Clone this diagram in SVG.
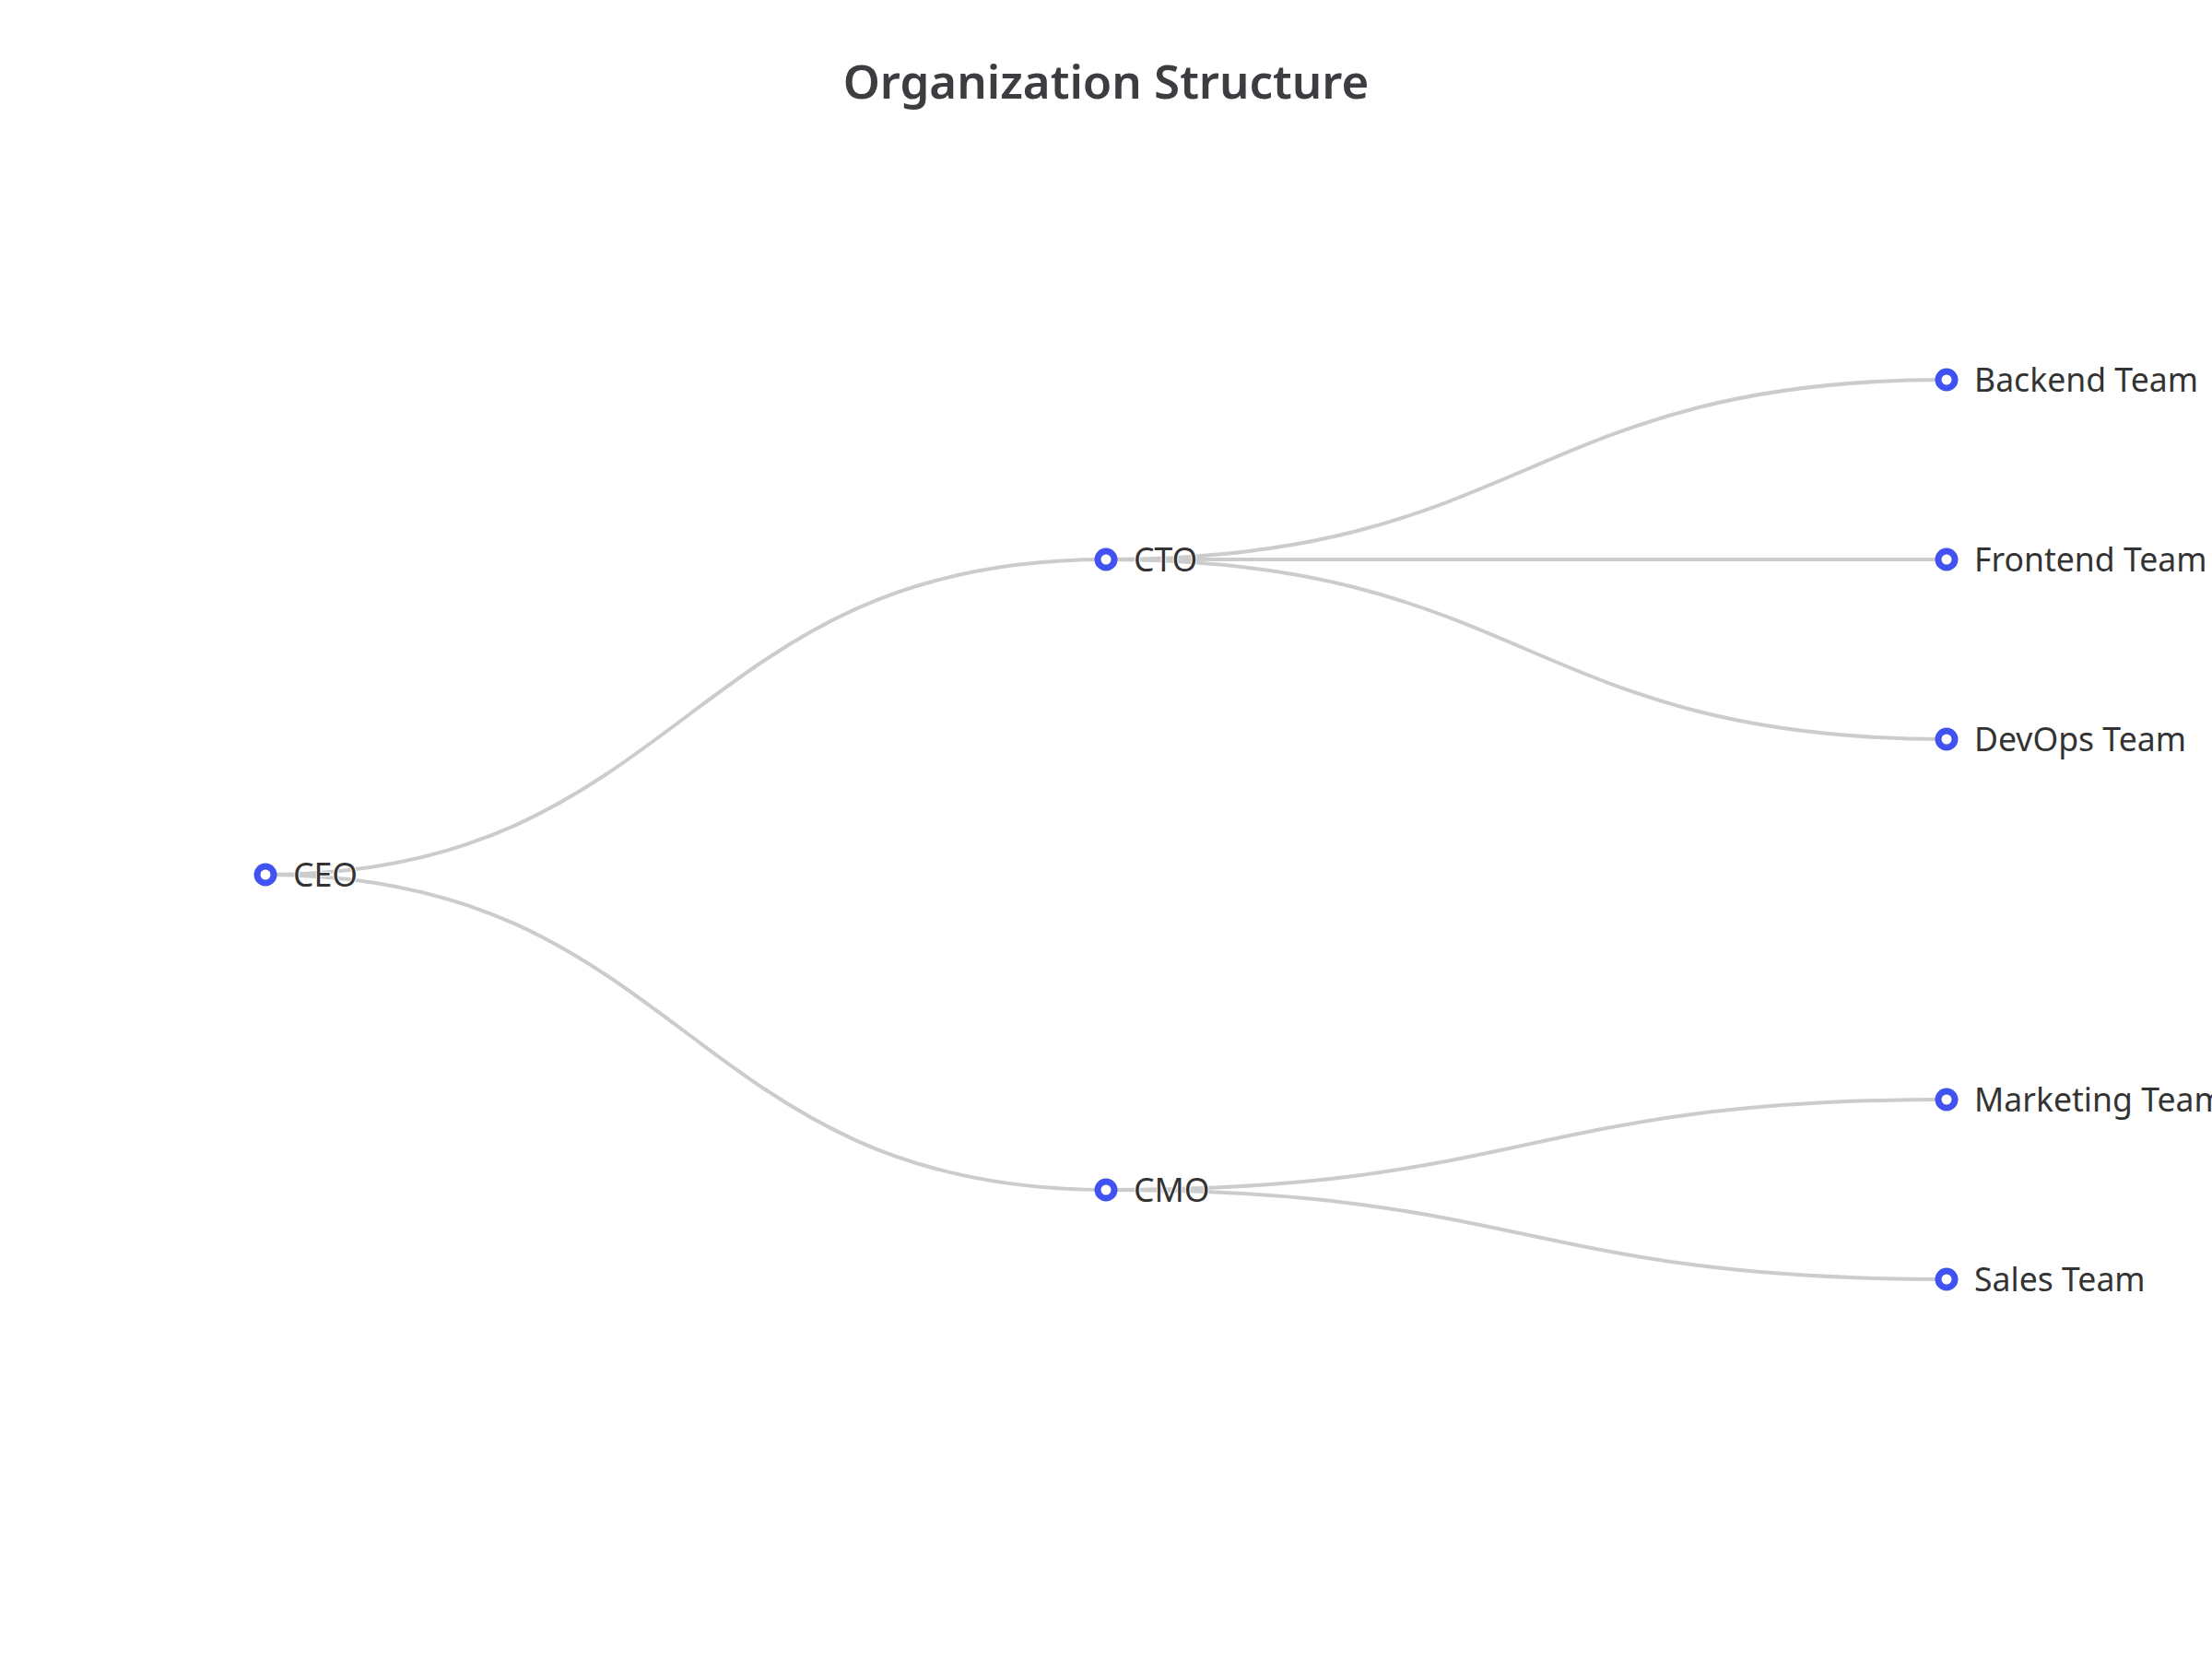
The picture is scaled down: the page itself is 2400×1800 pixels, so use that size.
<svg xmlns="http://www.w3.org/2000/svg" width="2400" height="1800" viewBox="0 0 2400 1800">
<style>
.link{fill:none;stroke:#cccccc;stroke-width:4}
.dot{fill:#ffffff;stroke:#4152f0;stroke-width:7}
.lbl{font-family:"Noto Sans","Open Sans","DejaVu Sans",sans-serif;font-size:35.6px;fill:#333333;stroke:#ffffff;stroke-width:2;paint-order:stroke;stroke-linejoin:round}
.title{font-family:"Noto Sans","Open Sans","DejaVu Sans",sans-serif;font-size:51px;font-weight:600;fill:#3c3c41;text-anchor:middle}
</style>
<rect width="2400" height="1800" fill="#ffffff"/>
<text class="title" x="1200" y="107">Organization Structure</text>
<g id="links">
<path class="link" d="M288,949 C744,949 744,607 1200,607"/>
<path class="link" d="M288,949 C744,949 744,1291 1200,1291"/>
<path class="link" d="M1200,607 C1656,607 1656,412 2112,412"/>
<path class="link" d="M1200,607 L2112,607"/>
<path class="link" d="M1200,607 C1656,607 1656,802 2112,802"/>
<path class="link" d="M1200,1291 C1656,1291 1656,1193 2112,1193"/>
<path class="link" d="M1200,1291 C1656,1291 1656,1388 2112,1388"/>
</g>
<g id="node-ceo"><circle class="dot" cx="288" cy="949" r="9"/><text class="lbl" x="318" y="961.5">CEO</text></g>
<g id="node-cto"><circle class="dot" cx="1200" cy="607" r="9"/><text class="lbl" x="1230" y="619.5">CTO</text></g>
<g id="node-cmo"><circle class="dot" cx="1200" cy="1291" r="9"/><text class="lbl" x="1230" y="1303.5">CMO</text></g>
<g id="node-backend"><circle class="dot" cx="2112" cy="412" r="9"/><text class="lbl" x="2142" y="424.5">Backend Team</text></g>
<g id="node-frontend"><circle class="dot" cx="2112" cy="607" r="9"/><text class="lbl" x="2142" y="619.5">Frontend Team</text></g>
<g id="node-devops"><circle class="dot" cx="2112" cy="802" r="9"/><text class="lbl" x="2142" y="814.5">DevOps Team</text></g>
<g id="node-marketing"><circle class="dot" cx="2112" cy="1193" r="9"/><text class="lbl" x="2142" y="1205.5">Marketing Team</text></g>
<g id="node-sales"><circle class="dot" cx="2112" cy="1388" r="9"/><text class="lbl" x="2142" y="1400.5">Sales Team</text></g>
</svg>
